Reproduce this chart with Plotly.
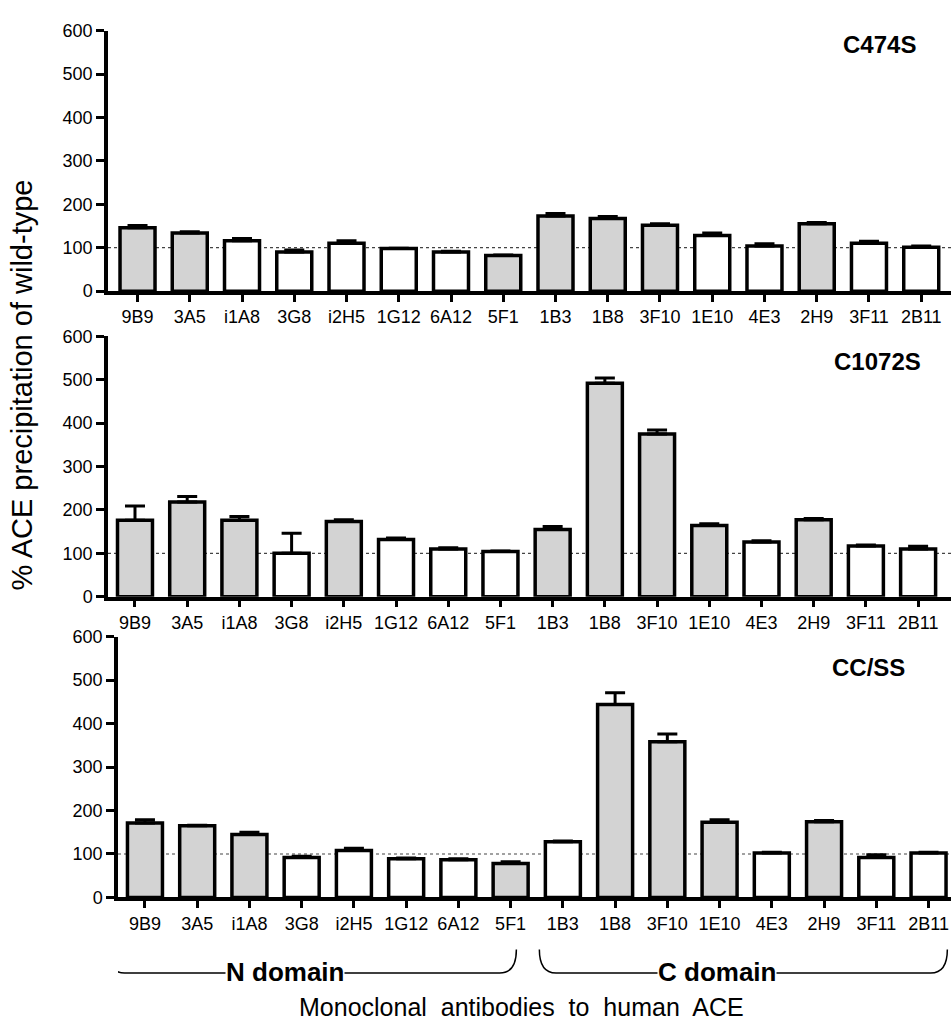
import plotly.graph_objects as go

# Monoclonal antibodies (N-domain: first 8, C-domain: last 8)
antibodies = ["9B9", "3A5", "i1A8", "3G8", "i2H5", "1G12", "6A12", "5F1",
              "1B3", "1B8", "3F10", "1E10", "4E3", "2H9", "3F11", "2B11"]

# % ACE precipitation relative to wild-type (mean, SEM, significant difference flag)
c474s_mean = [146, 134, 116, 90, 110, 98, 90, 82, 173, 167, 152, 128, 104, 155, 110, 101]
c474s_sem = [5, 3, 5, 5, 6, 1, 2, 1, 6, 5, 3, 6, 5, 3, 5, 3]
c474s_sig = [1, 1, 0, 0, 0, 0, 0, 1, 1, 1, 1, 0, 0, 1, 0, 0]

c1072s_mean = [176, 218, 176, 100, 173, 132, 110, 104, 155, 492, 375, 164, 126, 177, 117, 110]
c1072s_sem = [33, 13, 9, 46, 4, 3, 3, 1, 7, 12, 9, 4, 3, 3, 2, 6]
c1072s_sig = [1, 1, 1, 0, 1, 0, 0, 0, 1, 1, 1, 1, 0, 1, 0, 0]

ccss_mean = [171, 165, 145, 92, 108, 89, 87, 78, 128, 444, 358, 173, 102, 174, 92, 102]
ccss_sem = [8, 1, 5, 3, 5, 2, 2, 4, 2, 27, 18, 6, 2, 3, 6, 2]
ccss_sig = [1, 1, 1, 0, 0, 0, 0, 1, 0, 1, 1, 1, 0, 1, 0, 0]

panel_names = ["C474S", "C1072S", "CC/SS"]
y_ticks = [0, 100, 200, 300, 400, 500, 600]

W, H = 951, 1032
FONT = "Liberation Sans, Arial, sans-serif"
GRAY = "#d3d3d3"

panels = [
    (c474s_mean, c474s_sem, c474s_sig),
    (c1072s_mean, c1072s_sem, c1072s_sig),
    (ccss_mean, ccss_sem, ccss_sig),
]

# pixel layout of each panel: (x-axis left px, y px of 600, y px of 0, x range,
#                              panel-name centre x px, centre y px)
layout_px = [
    (108, 21, 286.7, [-0.565, 15.57], 879, 35),
    (108, 332.7, 598.3, [-0.517, 15.63], 877, 358),
    (118, 639, 905, [-0.516, 15.43], 868, 671),
]

idx = list(range(len(antibodies)))
fig = go.Figure()
shapes = []
annotations = []

for k, ((mean, sem, sig), (xl, ytop, ybot, xr, tx, ty)) in enumerate(zip(panels, layout_px)):
    sfx = "" if k == 0 else str(k + 1)
    fig.add_trace(go.Bar(
        x=idx, y=mean, width=0.67,
        marker=dict(color=[GRAY if s else "white" for s in sig],
                    line=dict(color="black", width=3.5)),
        error_y=dict(type="data", array=sem, arrayminus=[0] * len(sem),
                     symmetric=False, color="black", thickness=3, width=10),
        xaxis="x" + sfx, yaxis="y" + sfx, showlegend=False,
    ))
    fig.layout["xaxis" + sfx] = dict(
        domain=[xl / W, 1], range=xr, anchor="y" + sfx,
        tickmode="array", tickvals=idx, ticktext=antibodies,
        ticks="outside", ticklen=7, tickwidth=3, tickcolor="black",
        showline=True, linewidth=3.5, linecolor="black",
        showgrid=False, zeroline=False, tickangle=0,
        tickfont=dict(family=FONT, size=18, color="black"),
    )
    fig.layout["yaxis" + sfx] = dict(
        domain=[1 - ybot / H, 1 - ytop / H], range=[0, 600], anchor="x" + sfx,
        tickmode="array", tickvals=y_ticks,
        ticks="outside", ticklen=8, tickwidth=3, tickcolor="black",
        showline=True, linewidth=3.5, linecolor="black",
        showgrid=False, zeroline=False,
        tickfont=dict(family=FONT, size=18, color="black"),
    )
    # dotted 100% reference line
    shapes.append(dict(type="line", xref="x" + sfx + " domain", yref="y" + sfx,
                       x0=0, x1=1, y0=100, y1=100, layer="below",
                       line=dict(color="#444", width=1.2, dash="dot")))
    annotations.append(dict(text="<b>%s</b>" % panel_names[k], xref="paper", yref="paper",
                            x=tx / W, y=1 - ty / H,
                            xanchor="center", yanchor="middle", showarrow=False,
                            font=dict(family=FONT, size=24, color="black")))

# domain braces under the bottom panel
y_top = 1 - 958 / H
y_bot = 1 - 982 / H
for x0, x1 in [(-0.71, 7.11), (7.55, 15.36)]:
    path = ("M %f,%f Q %f,%f %f,%f L %f,%f Q %f,%f %f,%f" %
            (x0, y_top, x0, y_bot, x0 + 0.32, y_bot,
             x1 - 0.32, y_bot, x1, y_bot, x1, y_top))
    shapes.append(dict(type="path", xref="x3", yref="paper", path=path,
                       line=dict(color="black", width=1.5)))

for text, xc in [("N domain", 2.68), ("C domain", 10.95)]:
    annotations.append(dict(text="<b>%s</b>" % text, xref="x3", yref="paper",
                            x=xc, y=1 - 981 / H, xanchor="center", yanchor="middle",
                            showarrow=False, bgcolor="white", borderpad=0,
                            font=dict(family=FONT, size=26, color="black")))

annotations.append(dict(text="Monoclonal\u00a0 antibodies\u00a0 to\u00a0 human\u00a0 ACE",
                        xref="paper", yref="paper", x=521 / W, y=1 - 1017 / H,
                        xanchor="center", yanchor="middle", showarrow=False,
                        font=dict(family=FONT, size=25, color="black")))

annotations.append(dict(text="% ACE precipitation of wild-type",
                        xref="paper", yref="paper", x=22 / W, y=1 - 383 / H,
                        xanchor="center", yanchor="middle", textangle=-90, showarrow=False,
                        font=dict(family=FONT, size=29, color="black")))

fig.update_layout(
    width=W, height=H, margin=dict(l=0, r=0, t=0, b=0),
    paper_bgcolor="white", plot_bgcolor="white",
    bargap=0.3, shapes=shapes, annotations=annotations,
    font=dict(family=FONT, color="black"),
)

fig.write_html("out.html", config={"displayModeBar": False})
